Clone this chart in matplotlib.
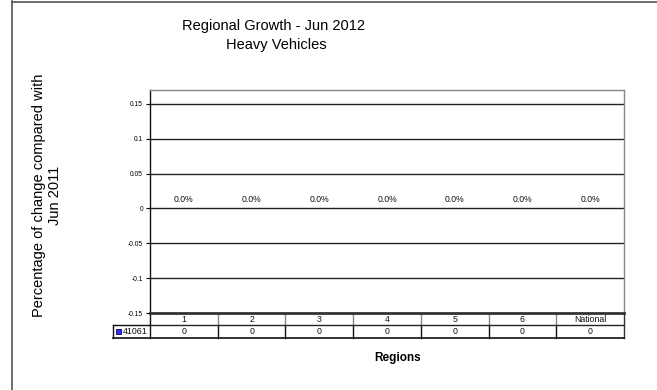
import matplotlib
matplotlib.use("Agg")
import matplotlib.pyplot as plt
from matplotlib.patches import Rectangle
from matplotlib.lines import Line2D

plt.rcParams['font.family'] = ['Liberation Sans', 'DejaVu Sans']

categories = ['1', '2', '3', '4', '5', '6', 'National']
series_name = '41061'
values = [0.0, 0.0, 0.0, 0.0, 0.0, 0.0, 0.0]
yticks = [-0.15, -0.1, -0.05, 0, 0.05, 0.1, 0.15]
ytick_labels = ['-0.15', '-0.1', '-0.05', '0', '0.05', '0.1', '0.15']

W, H = 657, 390
fig = plt.figure(figsize=(W / 100, H / 100), dpi=100)

# outer frame lines (figure)
fig.add_artist(Line2D([12 / W, 12 / W], [0, 1 - 1 / H], color='#555555', lw=1.2))
fig.add_artist(Line2D([12 / W, 1], [1 - 1.5 / H, 1 - 1.5 / H], color='#555555', lw=1.2))

L, R, T, B = 150, 624, 90, 313
ax = fig.add_axes([L / W, (H - B) / H, (R - L) / W, (B - T) / H])

x = list(range(len(categories)))
ax.bar(x, values, width=0.6, color='#3333cc')
ax.set_xlim(-0.5, len(categories) - 0.5)
ax.set_ylim(-0.15, 0.17)

for yv in yticks:
    if yv == -0.15:
        continue
    ax.axhline(yv, color='#222222', lw=1.0, zorder=1)

ax.set_yticks(yticks)
ax.set_yticklabels(ytick_labels, fontsize=4.8)
ax.tick_params(axis='y', length=3, width=0.8, pad=2)
ax.set_xticks([])

for s in ['top', 'right']:
    ax.spines[s].set_color('#888888')
    ax.spines[s].set_linewidth(1.0)
ax.spines['left'].set_color('#111111')
ax.spines['left'].set_linewidth(1.0)
ax.spines['bottom'].set_color('#333333')
ax.spines['bottom'].set_linewidth(2.0)

for xi, v in zip(x, values):
    ax.annotate(f"{v * 100:.1f}%", (xi, v), xytext=(0, 3), textcoords='offset points',
                ha='center', va='bottom', fontsize=6.2, color='#111111')

# data table below axes, in axes coordinates
tr = ax.transAxes
n = len(categories)
row1_bot = -(325 - B) / (B - T)
row2_bot = -(338 - B) / (B - T)
leg_left = (113 - L) / (R - L)

def line(xs, ys, color='black', lw=1.0):
    ax.add_line(Line2D(xs, ys, transform=tr, color=color, lw=lw, clip_on=False))

# header row
line([0, 1], [row1_bot, row1_bot], color='#222222', lw=1.0)
for i in range(1, n):
    xf = i / n
    line([xf, xf], [0, row1_bot], color='#888888', lw=1.0)
line([1, 1], [0, row2_bot], color='#333333', lw=1.0)
# data row
line([leg_left, 1], [row2_bot, row2_bot], color='#111111', lw=1.2)
line([leg_left, 0], [row1_bot, row1_bot], color='#111111', lw=1.0)
line([leg_left, leg_left], [row1_bot, row2_bot], color='#111111', lw=1.0)
line([0, 0], [0, row2_bot], color='#111111', lw=1.0)
for i in range(1, n):
    xf = i / n
    line([xf, xf], [row1_bot, row2_bot], color='#111111', lw=1.0)

pxw = 1 / (R - L)
pxh = 1 / (B - T)
for i, (c, v) in enumerate(zip(categories, values)):
    xc = (i + 0.5) / n
    ax.text(xc, row1_bot / 2 - 0.5 * pxh, c, transform=tr, ha='center', va='center', fontsize=6.3, color='#111111')
    ax.text(xc, (row1_bot + row2_bot) / 2, f"{v:g}", transform=tr, ha='center', va='center',
            fontsize=6.3, color='#111111')

# legend key in table
ym = (row1_bot + row2_bot) / 2
ax.add_patch(Rectangle((leg_left + 3 * pxw, ym - 2.5 * pxh), 4.5 * pxw, 5 * pxh, transform=tr,
                       facecolor='#3333ee', edgecolor='#000066', lw=0.6, clip_on=False))
ax.text(leg_left + 9.5 * pxw, ym, series_name, transform=tr, ha='left', va='center',
        fontsize=6.3, color='#111111')

# titles and labels
fig.text(273 / W, 1 - 26 / H, 'Regional Growth - Jun 2012', ha='center', va='center', fontsize=10.5)
fig.text(276 / W, 1 - 45 / H, 'Heavy Vehicles', ha='center', va='center', fontsize=10.5)
fig.text(398 / W, 1 - 358 / H, 'Regions', ha='center', va='center', fontsize=8.5, fontweight='bold')
fig.text(47 / W, 1 - 195 / H, 'Percentage of change compared with\nJun 2011', ha='center', va='center',
         rotation=90, fontsize=10.5, linespacing=1.15)

fig.savefig('out.png', dpi=100)
